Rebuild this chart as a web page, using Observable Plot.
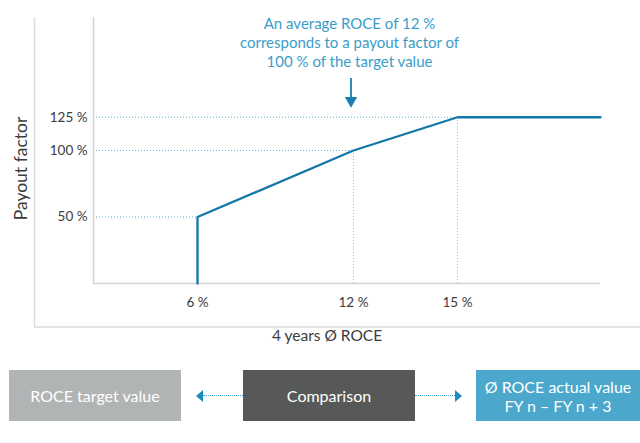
<!DOCTYPE html>
<html>
<head>
<meta charset="utf-8">
<script src="https://cdn.jsdelivr.net/npm/d3@7"></script>
<script src="https://cdn.jsdelivr.net/npm/@observablehq/plot@0.6"></script>
<style>
  html, body { margin: 0; padding: 0; background: #fff; }
  body { width: 640px; height: 443px; position: relative; overflow: hidden; font-family: Lato, "Open Sans", sans-serif; }
  #chart { position: absolute; left: 0; top: 0; }
  .box { position: absolute; top: 370px; height: 51px; color: #fff; font-size: 16px; display: flex; align-items: center; justify-content: center; text-align: center; line-height: 19px; }
  .dots { position: absolute; top: 395px; height: 0; border-top: 1.5px dotted #3aa3cf; }
  .head-l { position: absolute; top: 390px; width: 0; height: 0; border-top: 6px solid transparent; border-bottom: 6px solid transparent; border-right: 7px solid #1a8cc0; }
  .head-r { position: absolute; top: 390px; width: 0; height: 0; border-top: 6px solid transparent; border-bottom: 6px solid transparent; border-left: 7px solid #1a8cc0; }
</style>
</head>
<body>
<div id="chart"></div>
<div class="box" style="left:9px;width:172px;background:#b1b4b5;">ROCE target value</div>
<div class="head-l" style="left:196px;"></div>
<div class="dots" style="left:203px;width:40px;"></div>
<div class="box" style="left:243px;width:172px;background:#575958;">Comparison</div>
<div class="dots" style="left:415px;width:40px;"></div>
<div class="head-r" style="left:455px;"></div>
<div class="box" style="left:476px;width:164px;background:#4ba8cc;">Ø ROCE actual value<br>FY n – FY n + 3</div>
<script>
// Payout curve (4 years Ø ROCE in %, payout factor in %)
const roce   = [6, 6, 12, 15, 19];
const payout = [0, 50, 100, 125, 125];
// Reference points with dotted guides
const refRoce   = [6, 12, 15];
const refPayout = [50, 100, 125];
// Tick labels
const xTicks = [6, 12, 15];
const yTicks = [50, 100, 125];
const annotation = "An average ROCE of 12 %\ncorresponds to a payout factor of\n100 % of the target value";
const yTitle = "Payout factor";
const xTitle = "4 years Ø ROCE";

// The x axis is schematic (not proportional): map ROCE to axis position units
const roceToPos = d3.scaleLinear().domain([2, 6, 12, 15, 19]).range([0, 4, 10, 14, 19.5]);

const curve = roce.map((x, i) => ({x, y: payout[i]}));
const refs = refRoce.map((x, i) => ({x, y: refPayout[i]}));
const px = d => roceToPos(d.x);

const guide = {stroke: "#5cb8d9", strokeWidth: 1.1, strokeDasharray: "1,2"};
const axisGray = "#d4d4d4";

const plot = Plot.plot({
  width: 640,
  height: 355,
  marginLeft: 93,
  marginRight: 40,
  marginTop: 17,
  marginBottom: 72,
  style: {fontFamily: "Lato, 'Open Sans', sans-serif", fontSize: "13.5px", color: "#3c3c3c", background: "#fff"},
  x: {domain: [0, 19.5], ticks: xTicks.map(roceToPos), tickFormat: p => Math.round(roceToPos.invert(p)) + " %", tickSize: 0, tickPadding: 14, label: null},
  y: {domain: [0, 200], ticks: yTicks, tickFormat: d => d + " %", tickSize: 0, tickPadding: 6, label: null},
  marks: [
    // outer frame
    Plot.ruleX([0], {dx: -59, insetBottom: -44, stroke: "#dcdcdc", strokeWidth: 1.5}),
    Plot.ruleY([0], {dy: 43.5, insetLeft: -59, insetRight: -40, stroke: "#dcdcdc", strokeWidth: 1.5}),
    // dotted guides
    Plot.ruleY(refs, {y: "y", x1: 0, x2: px, ...guide}),
    Plot.ruleX(refs.filter(d => d.x !== 6), {x: px, y1: 0, y2: "y", ...guide, stroke: "#7cc6e0"}),
    // inner axes lines
    Plot.ruleX([0], {stroke: axisGray, strokeWidth: 1.5}),
    Plot.ruleY([0], {stroke: axisGray, strokeWidth: 1.5}),
    // payout curve
    Plot.line(curve, {x: px, y: "y", stroke: "#1276a7", strokeWidth: 2.3, strokeLinejoin: "miter"}),
    // annotation
    Plot.text([annotation], {x: () => roceToPos(12), frameAnchor: "top", text: d => d, lineAnchor: "top", lineHeight: 1.27, dx: -4, dy: -2, fontSize: 15, fill: "#3a9dc9"}),
    Plot.ruleX([12], {x: d => roceToPos(d), dx: -2.5, insetTop: 61, insetBottom: 184, stroke: "#1a7fb0", strokeWidth: 1.8}),
    Plot.dot([12], {x: d => roceToPos(d), frameAnchor: "top", dx: -2.5, dy: 83, symbol: "triangle", rotate: 180, r: 4.6, fill: "#1a7fb0", stroke: "none"}),
    // axis titles
    Plot.text([yTitle], {frameAnchor: "left", textAnchor: "middle", text: d => d, rotate: -90, dx: -72, dy: 18, fontSize: 17.5, fill: "#3c3c3c"}),
    Plot.text([xTitle], {frameAnchor: "bottom", text: d => d, dx: -20, dy: 57, fontSize: 15.5, fill: "#3c3c3c"})
  ]
});
document.getElementById("chart").appendChild(plot);
</script>
</body>
</html>
